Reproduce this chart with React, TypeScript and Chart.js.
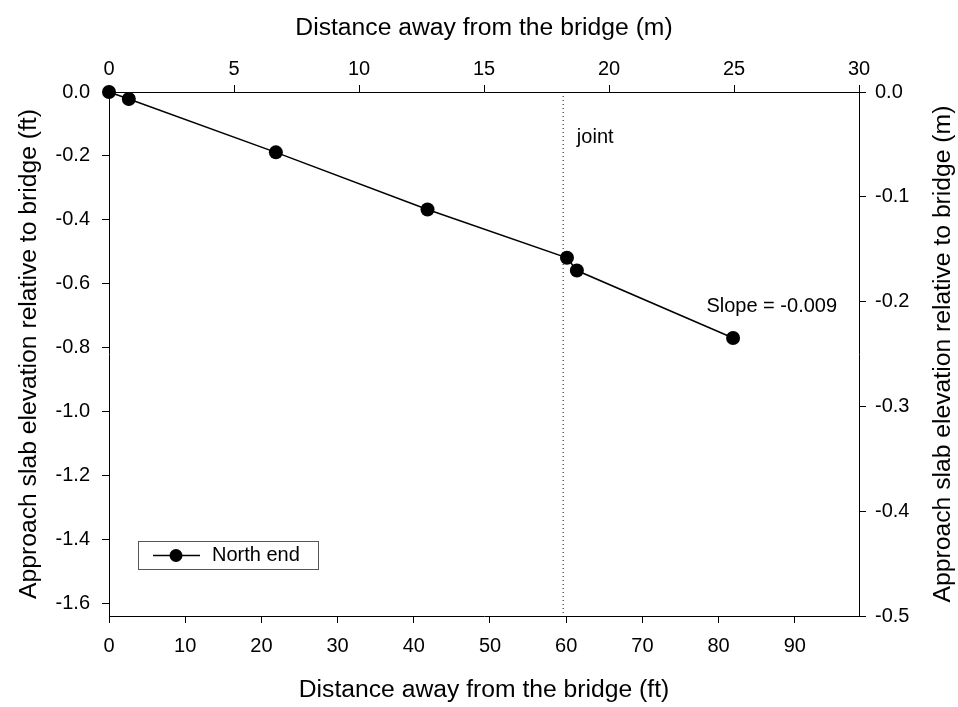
import React, { useEffect, useRef } from "react";
import { Chart, registerables } from "chart.js";
Chart.register(...registerables);

const FT_PER_M = 3.28084;
const seriesLabel = "North end";
const distanceFt = [0, 2.6, 21.9, 41.8, 60.1, 61.4, 81.9];
const elevationFt = [0, -0.022, -0.189, -0.368, -0.519, -0.559, -0.77];
const bottomTicksFt = [0, 10, 20, 30, 40, 50, 60, 70, 80, 90];
const topTicksM = [0, 5, 10, 15, 20, 25, 30];
const leftTicksFt = [0, -0.2, -0.4, -0.6, -0.8, -1.0, -1.2, -1.4, -1.6];
const rightTicksM = [0, -0.1, -0.2, -0.3, -0.4, -0.5];
const xMaxM = 30;
const yMinM = -0.5;
const jointFt = 59.6;
const jointLabel = "joint";
const jointLabelPos = { x: 61.4, y: -0.141 };
const slopeLabel = "Slope = -0.009";
const slopeLabelPos = { x: 78.4, y: -0.672 };
const xTitleBottom = "Distance away from the bridge (ft)";
const xTitleTop = "Distance away from the bridge (m)";
const yTitleLeft = "Approach slab elevation relative to bridge (ft)";
const yTitleRight = "Approach slab elevation relative to bridge (m)";

const FONT = "'Liberation Sans', Arial, sans-serif";
const TICK_SIZE = 20;
const TITLE_SIZE = 24.7;

const setTicks = (vals: number[]) => (axis: any) => {
  axis.ticks = vals.map((v) => ({ value: v }));
};

const annotationPlugin = {
  id: "annotations",
  afterDatasetsDraw(chart: any) {
    const { ctx, scales, chartArea } = chart;
    const x = scales.x;
    const y = scales.y;
    ctx.save();
    ctx.fillStyle = "#000";
    ctx.font = `${TICK_SIZE}px ${FONT}`;
    ctx.textBaseline = "middle";
    ctx.textAlign = "left";
    ctx.fillText(jointLabel, x.getPixelForValue(jointLabelPos.x), y.getPixelForValue(jointLabelPos.y));
    ctx.fillText(slopeLabel, x.getPixelForValue(slopeLabelPos.x), y.getPixelForValue(slopeLabelPos.y));

    // legend
    const bx = 138, by = 541, bw = 180, bh = 28;
    ctx.strokeStyle = "#555";
    ctx.lineWidth = 1;
    ctx.strokeRect(bx + 0.5, by + 0.5, bw, bh);
    const ly = by + bh / 2 + 0.5;
    ctx.strokeStyle = "#000";
    ctx.lineWidth = 1.5;
    ctx.beginPath();
    ctx.moveTo(bx + 15, ly);
    ctx.lineTo(bx + 62, ly);
    ctx.stroke();
    ctx.beginPath();
    ctx.arc(bx + 38, ly, 6.5, 0, Math.PI * 2);
    ctx.fillStyle = "#000";
    ctx.fill();
    ctx.fillText(seriesLabel, bx + 74, ly);

    // right axis title, reading bottom-to-top
    ctx.save();
    ctx.translate(943, (chartArea.top + chartArea.bottom) / 2);
    ctx.rotate(-Math.PI / 2);
    ctx.textAlign = "center";
    ctx.textBaseline = "middle";
    ctx.font = `${TITLE_SIZE}px ${FONT}`;
    ctx.fillText(yTitleRight, 0, 0);
    ctx.restore();
    ctx.restore();
  },
};

export default function App() {
  const ref = useRef<HTMLCanvasElement>(null);
  useEffect(() => {
    document.body.style.margin = "0";
    const canvas = ref.current!;
    const tickFont = { family: FONT, size: TICK_SIZE };
    const titleFont = { family: FONT, size: TITLE_SIZE };
    const grid = {
      drawOnChartArea: false,
      drawTicks: true,
      tickLength: 7,
      color: "#000",
      lineWidth: 1,
    };
    const border = { display: true, color: "#000", width: 1 };
    const chart = new Chart(canvas, {
      type: "line",
      data: {
        datasets: [
          {
            label: seriesLabel,
            data: distanceFt.map((d, i) => ({ x: d, y: elevationFt[i] })),
            xAxisID: "x",
            yAxisID: "y",
            borderColor: "#000",
            backgroundColor: "#000",
            borderWidth: 1.5,
            pointRadius: 7,
            pointBackgroundColor: "#000",
            pointBorderWidth: 0,
            clip: false,
            order: 1,
          } as any,
          {
            label: "joint",
            data: [
              { x: jointFt, y: 0 },
              { x: jointFt, y: yMinM * FT_PER_M },
            ],
            xAxisID: "x",
            yAxisID: "y",
            borderColor: "#000",
            borderWidth: 1,
            borderDash: [1, 3],
            pointRadius: 0,
            order: 2,
          } as any,
        ],
      },
      options: {
        animation: false,
        responsive: false,
        devicePixelRatio: 1,
        layout: { padding: 0 },
        plugins: { legend: { display: false }, tooltip: { enabled: false } },
        scales: {
          x: {
            type: "linear",
            position: "bottom",
            min: 0,
            max: xMaxM * FT_PER_M,
            afterBuildTicks: setTicks(bottomTicksFt),
            afterFit: (s: any) => { s.height = 91; },
            grid,
            border,
            ticks: { font: tickFont, color: "#000", padding: 11, autoSkip: false, maxRotation: 0, callback: (v: any) => String(v) },
            title: { display: true, text: xTitleBottom, font: titleFont, color: "#000", padding: { top: 0, bottom: 2 } },
          },
          xTop: {
            type: "linear",
            position: "top",
            min: 0,
            max: xMaxM,
            afterBuildTicks: setTicks(topTicksM),
            afterFit: (s: any) => { s.height = 92; },
            grid,
            border,
            ticks: { font: tickFont, color: "#000", padding: 4, autoSkip: false, maxRotation: 0, callback: (v: any) => String(v) },
            title: { display: true, text: xTitleTop, font: titleFont, color: "#000", padding: { top: 13, bottom: 0 } },
          },
          y: {
            type: "linear",
            position: "left",
            min: yMinM * FT_PER_M,
            max: 0,
            afterBuildTicks: setTicks(leftTicksFt),
            afterFit: (s: any) => { s.width = 109; },
            grid,
            border,
            ticks: { font: tickFont, color: "#000", padding: 12, autoSkip: false, callback: (v: any) => Number(v).toFixed(1) },
            title: { display: true, text: yTitleLeft, font: titleFont, color: "#000", padding: { top: 14, bottom: 0 } },
          },
          y2: {
            type: "linear",
            position: "right",
            min: yMinM,
            max: 0,
            afterBuildTicks: setTicks(rightTicksM),
            afterFit: (s: any) => { s.width = 99; },
            grid,
            border,
            ticks: { font: tickFont, color: "#000", padding: 9, autoSkip: false, callback: (v: any) => Number(v).toFixed(1) },
            title: { display: false, text: yTitleRight },
          },
        },
      } as any,
      plugins: [annotationPlugin],
    });
    return () => chart.destroy();
  }, []);
  return (
    <div style={{ position: "fixed", left: 0, top: 0, width: 958, height: 707, background: "#fff" }}>
      <canvas ref={ref} width={958} height={707} />
    </div>
  );
}
